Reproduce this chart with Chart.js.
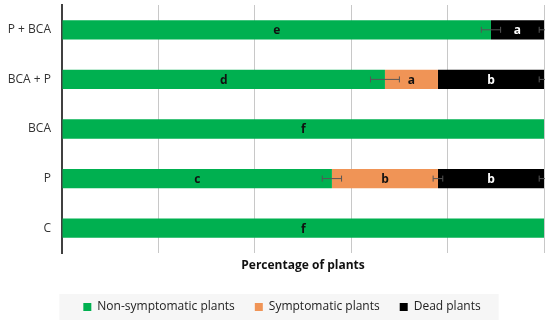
<!DOCTYPE html>
<html>
<head>
<meta charset="utf-8">
<script src="https://cdn.jsdelivr.net/npm/chart.js@4/dist/chart.umd.min.js"></script>
<style>
  html, body { margin: 0; padding: 0; background: #fff; }
  #wrap { width: 550px; height: 323px; position: relative; }
</style>
</head>
<body>
<div id="wrap"><canvas id="c"></canvas></div>
<script>
/* ===== DATA ===== */
const treatments = ['P + BCA', 'BCA + P', 'BCA', 'P', 'C'];
const nonSymptomatic = [89, 67, 100, 56, 100];
const symptomatic   = [0, 11, 0, 22, 0];
const dead          = [11, 22, 0, 22, 0];
// error (+/-) drawn at the end of each segment
const errNonSymp = [2, 3, 0, 2, 0];
const errSymp    = [0, 0, 0, 1, 0];
const errDead    = [1, 1, 0, 1, 0];
// significance letters
const lettersNonSymp = ['e', 'd', 'f', 'c', 'f'];
const lettersSymp    = [null, 'a', null, 'b', null];
const lettersDead    = ['a', 'b', null, 'b', null];

const FONT = "'Open Sans', sans-serif";
const GREEN = '#00B050', ORANGE = '#F09456', BLACK = '#000000';

// Plugin: desloca a legenda e desenha o fundo cinza claro
const legendBg = {
  id: 'legendBg',
  afterUpdate(chart) {
    const lg = chart.legend;
    if (!lg) return;
    const dx = 10;
    lg.left += dx; lg.right += dx;
    (lg.legendHitBoxes || []).forEach(b => { b.left += dx; });
  },
  beforeDraw(chart) {
    const boxes = chart.legend && chart.legend.legendHitBoxes;
    if (!boxes || !boxes.length) return;
    const { ctx } = chart;
    const left = Math.min(...boxes.map(b => b.left)) - 24;
    const right = Math.max(...boxes.map(b => b.left + b.width)) + 18;
    const midY = boxes[0].top + boxes[0].height / 2;
    ctx.save();
    ctx.fillStyle = '#f6f6f6';
    ctx.fillRect(left, midY - 13, right - left, 26);
    ctx.restore();
  }
};

// Plugin: barras de erro no fim de cada segmento
const errorBars = {
  id: 'errorBars',
  afterDatasetsDraw(chart) {
    const { ctx, chartArea } = chart;
    ctx.save();
    ctx.beginPath();
    ctx.rect(chartArea.left, chartArea.top, chartArea.right - chartArea.left + 1, chartArea.bottom - chartArea.top);
    ctx.clip();
    ctx.strokeStyle = '#555';
    ctx.lineWidth = 1;
    chart.data.datasets.forEach((ds, di) => {
      const meta = chart.getDatasetMeta(di);
      meta.data.forEach((el, i) => {
        const e = ds.err[i];
        if (!e || !ds.data[i]) return;
        const xs = chart.scales.x;
        const v = xs.getValueForPixel(el.x);
        const x1 = xs.getPixelForValue(v - e), x2 = xs.getPixelForValue(v + e);
        const y = el.y, h = 3;
        ctx.beginPath();
        ctx.moveTo(x1, y); ctx.lineTo(x2, y);
        ctx.moveTo(x1, y - h); ctx.lineTo(x1, y + h);
        ctx.moveTo(x2, y - h); ctx.lineTo(x2, y + h);
        ctx.stroke();
      });
    });
    ctx.restore();
  }
};

// Plugin: letras dentro dos segmentos
const segLetters = {
  id: 'segLetters',
  afterDatasetsDraw(chart) {
    const { ctx } = chart;
    chart.data.datasets.forEach((ds, di) => {
      const meta = chart.getDatasetMeta(di);
      meta.data.forEach((el, i) => {
        const t = ds.letters[i];
        if (!t) return;
        ctx.save();
        ctx.font = 'bold 12px ' + FONT;
        ctx.fillStyle = ds.letterColor;
        ctx.textAlign = 'center';
        ctx.textBaseline = 'middle';
        ctx.fillText(t, (el.x + el.base) / 2, el.y + 1);
        ctx.restore();
      });
    });
  }
};

const mk = (label, data, color, err, letters, letterColor) => ({
  label, data, backgroundColor: color, err, letters, letterColor,
  categoryPercentage: 1, barPercentage: 0.39, borderWidth: 0
});

new Chart(document.getElementById('c'), {
  type: 'bar',
  data: {
    labels: treatments,
    datasets: [
      mk('Non-symptomatic plants', nonSymptomatic, GREEN, errNonSymp, lettersNonSymp, '#111'),
      mk('Symptomatic plants', symptomatic, ORANGE, errSymp, lettersSymp, '#111'),
      mk('Dead plants', dead, BLACK, errDead, lettersDead, '#fff')
    ]
  },
  options: {
    indexAxis: 'y',
    responsive: true, maintainAspectRatio: false,
    animation: false,
    layout: { padding: { top: 5, right: 6, left: 0, bottom: 0 } },
    plugins: {
      tooltip: { enabled: false },
      legend: {
        position: 'bottom',
        labels: {
          font: { family: FONT, size: 12 }, color: '#222',
          boxWidth: 8, boxHeight: 8, padding: 20, useBorderRadius: false
        }
      }
    },
    scales: {
      x: {
        stacked: true, min: 0, max: 100,
        ticks: { display: false, stepSize: 20 },
        grid: { color: '#c8c8c8', lineWidth: 1, drawTicks: false },
        border: { display: false },
        title: { display: true, text: 'Percentage of plants', font: { family: FONT, size: 12, weight: 'bold' }, color: '#111', padding: { top: 4, bottom: 8 } },
        afterFit(s) { s.height = 28; s.paddingLeft = 0; s.paddingRight = 0; }
      },
      y: {
        stacked: true,
        grid: { display: false, drawTicks: false },
        border: { display: true, color: '#404040', width: 2 },
        ticks: { font: { family: FONT, size: 12 }, color: '#333', padding: 11 },
        afterFit(s) { s.width = 62; s.paddingTop = 0; s.paddingBottom = 0; }
      }
    }
  },
  plugins: [legendBg, errorBars, segLetters]
});
</script>
</body>
</html>
